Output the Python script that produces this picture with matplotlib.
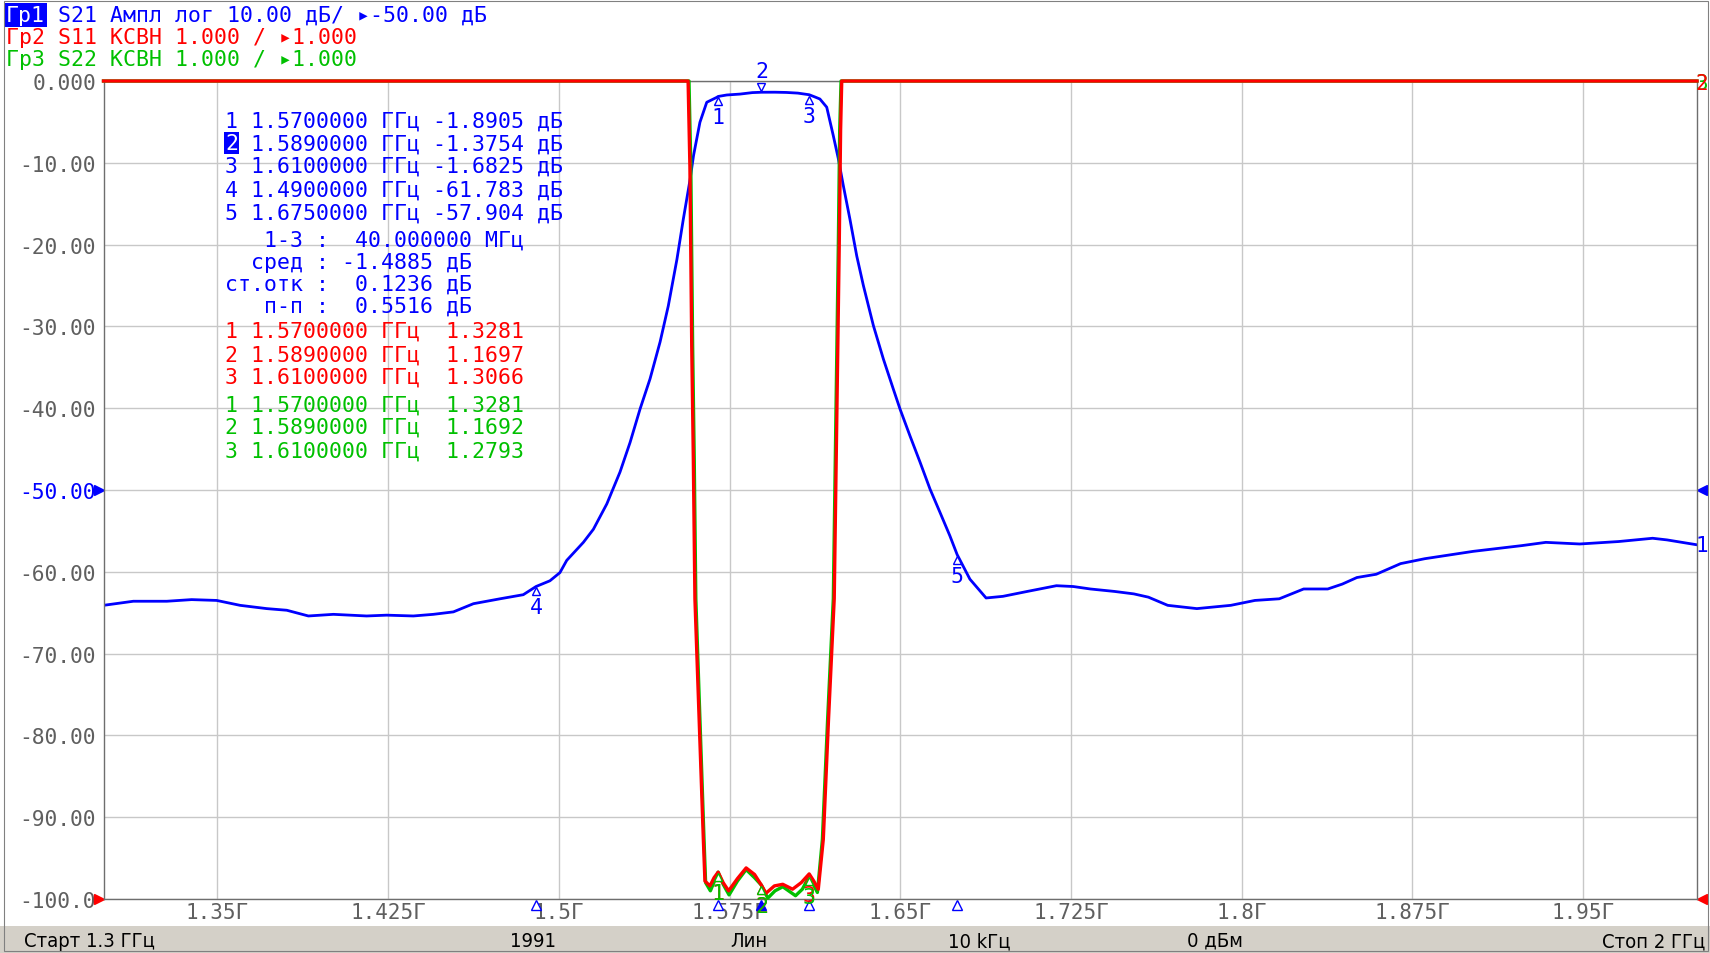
import numpy as np
import matplotlib.pyplot as plt
from matplotlib import transforms
from matplotlib.patches import Rectangle

W, H = 1710, 954
BLUE, RED, GREEN, GRAY = "#0000ff", "#ff0000", "#00c000", "#5f5f5f"
MONO = ["DejaVu Sans Mono", "DejaVu Sans"]

# S21, дБ
s21_f = [1.3000, 1.3131, 1.3278, 1.3387, 1.3497, 1.3600, 1.3717, 1.3805, 1.3900, 1.4010,
         1.4156, 1.4244, 1.4361, 1.4449, 1.4537, 1.4625, 1.4742, 1.4844, 1.4900, 1.4961,
         1.5005, 1.5035, 1.5108, 1.5152, 1.5211, 1.5269, 1.5313, 1.5357, 1.5401, 1.5445,
         1.5481, 1.5519, 1.5547, 1.5577, 1.5592, 1.5620, 1.5650, 1.5694, 1.5700, 1.5738,
         1.5796, 1.5850, 1.5890, 1.5950, 1.6000, 1.6050, 1.6100, 1.6125, 1.6147, 1.6177,
         1.6206, 1.6228, 1.6250, 1.6279, 1.6309, 1.6338, 1.6382, 1.6426, 1.6470, 1.6499,
         1.6543, 1.6587, 1.6631, 1.6674, 1.6718, 1.6750, 1.6806, 1.6877, 1.6951, 1.7058,
         1.7186, 1.7260, 1.7335, 1.7441, 1.7526, 1.7590, 1.7675, 1.7803, 1.7952, 1.8058,
         1.8165, 1.8272, 1.8378, 1.8442, 1.8506, 1.8591, 1.8698, 1.8804, 1.9017, 1.9230,
         1.9336, 1.9485, 1.9656, 1.9805, 1.9868, 2.0000]
s21_db = [-64.1, -63.6, -63.6, -63.4, -63.5, -64.1, -64.5, -64.7, -65.4, -65.2,
          -65.4, -65.3, -65.4, -65.2, -64.9, -63.9, -63.3, -62.8, -61.8, -61.1,
          -60.1, -58.6, -56.4, -54.8, -51.7, -47.8, -44.2, -40.1, -36.4, -31.9,
          -27.5, -21.8, -16.9, -12.0, -9.1, -5.05, -2.6, -2.0, -1.89, -1.71,
          -1.6, -1.42, -1.375, -1.37, -1.40, -1.48, -1.68, -1.95, -2.2, -3.2,
          -6.7, -9.5, -12.8, -16.9, -21.4, -25.0, -29.9, -34.0, -37.7, -40.1,
          -43.4, -46.6, -49.9, -52.7, -55.6, -57.9, -60.9, -63.2, -63.0, -62.4,
          -61.7, -61.8, -62.1, -62.4, -62.7, -63.1, -64.1, -64.5, -64.1, -63.5,
          -63.3, -62.1, -62.1, -61.5, -60.7, -60.3, -59.0, -58.4, -57.5, -56.8,
          -56.4, -56.6, -56.3, -55.9, -56.1, -56.7]

# S11, КСВН (верх шкалы = 11)
s11_f = [1.3000, 1.5568, 1.5576, 1.5584, 1.5591, 1.5598, 1.5635, 1.5642, 1.5664, 1.5682,
         1.5700, 1.5722, 1.5746, 1.5785, 1.5823, 1.5860, 1.5890, 1.5910, 1.5947, 1.5984,
         1.6027, 1.6065, 1.6100, 1.6120, 1.6140, 1.6162, 1.6185, 1.6210, 1.6232, 1.6238,
         1.6243, 2.0000]
s11_vswr = [11.0, 11.0, 9.95, 7.76, 6.38, 4.67, 1.73, 1.22, 1.16, 1.26,
            1.328, 1.2, 1.10, 1.25, 1.38, 1.3, 1.17, 1.07, 1.16, 1.18,
            1.12, 1.2, 1.307, 1.22, 1.12, 1.73, 3.2, 4.67, 8.99, 10.4,
            11.0, 11.0]

# S22, КСВН
s22_f = [1.3000, 1.5572, 1.5580, 1.5588, 1.5595, 1.5602, 1.5638, 1.5645, 1.5666, 1.5684,
         1.5700, 1.5722, 1.5748, 1.5785, 1.5823, 1.5860, 1.5890, 1.5918, 1.5950, 1.5984,
         1.6040, 1.6070, 1.6100, 1.6118, 1.6136, 1.6158, 1.6181, 1.6206, 1.6228, 1.6234,
         1.6240, 2.0000]
s22_vswr = [11.0, 11.0, 9.95, 7.76, 6.38, 4.67, 1.73, 1.2, 1.1, 1.22,
            1.328, 1.18, 1.05, 1.22, 1.36, 1.26, 1.169, 1.01, 1.1, 1.15,
            1.04, 1.12, 1.279, 1.18, 1.08, 1.73, 3.2, 4.67, 8.99, 10.4,
            11.0, 11.0]

# маркеры
mk_f = [1.57, 1.589, 1.61, 1.49, 1.675]
mk_s21 = [-1.8905, -1.3754, -1.6825, -61.783, -57.904]
mk_s11 = [1.3281, 1.1697, 1.3066]
mk_s22 = [1.3281, 1.1692, 1.2793]
stats = [-1.4885, 0.1236, 0.5516]

x_ticks = [1.35, 1.425, 1.5, 1.575, 1.65, 1.725, 1.8, 1.875, 1.95]
x_labels = ["1.35Г", "1.425Г", "1.5Г", "1.575Г", "1.65Г", "1.725Г", "1.8Г", "1.875Г", "1.95Г"]
y_ticks = [0, -10, -20, -30, -40, -50, -60, -70, -80, -90, -100]
y_labels = ["0.000", "-10.00", "-20.00", "-30.00", "-40.00", "-50.00",
            "-60.00", "-70.00", "-80.00", "-90.00", "-100.0"]

header = ["Гр1 S21 Ампл лог 10.00 дБ/ ▸-50.00 дБ",
          "Гр2 S11 КСВН 1.000 / ▸1.000",
          "Гр3 S22 КСВН 1.000 / ▸1.000"]
status = ["Старт 1.3 ГГц", "1991", "Лин", "10 kГц", "0 дБм", "Стоп 2 ГГц"]


def fx(x):
    return x / W


def fy(y):
    return 1 - y / H


fig = plt.figure(figsize=(W / 100, H / 100), dpi=100)
fig.patch.set_facecolor("white")

# рамка окна и строка состояния
fig.patches.append(Rectangle((0, 0), 1, (H - 927) / H, transform=fig.transFigure,
                             facecolor="#d4d0c8", edgecolor="none", zorder=0))
fig.patches.append(Rectangle((fx(3.5), fy(951.5)), (1707.5 - 3.5) / W, (951.5 - 1.5) / H,
                             transform=fig.transFigure, fill=False,
                             edgecolor="#808080", lw=0.8, zorder=5))

ax = fig.add_axes([fx(103.5), fy(900), (1697 - 103.5) / W, (900 - 82) / H])
ax.set_xlim(1.3, 2.0)
ax.set_ylim(-100, 0)
ax.set_xticks(x_ticks)
ax.set_xticklabels(x_labels, family=MONO, fontsize=15, color=GRAY)
ax.set_yticks(y_ticks)
ax.set_yticklabels(y_labels, family=MONO, fontsize=15.3, color=GRAY)
ax.get_yticklabels()[5].set_color(BLUE)
ax.tick_params(length=0)
ax.tick_params(axis="x", pad=2)
ax.tick_params(axis="y", pad=5.4)
ax.grid(color="#c8c8c8", lw=1)
for s in ax.spines.values():
    s.set_color("#6e6e6e")
    s.set_linewidth(1)

ax2 = ax.twinx()
ax2.set_ylim(1, 11)
ax2.set_yticks([])
for s in ax2.spines.values():
    s.set_visible(False)

ax.plot(s21_f, s21_db, color=BLUE, lw=2.0)
ax2.plot(s22_f, s22_vswr, color=GREEN, lw=2.4, clip_on=False)
ax2.plot(s11_f, s11_vswr, color=RED, lw=2.4, clip_on=False)


def trace_marker(axis, f, v, num, color, below=True):
    dy = -5 if below else 5
    tr = transforms.offset_copy(axis.transData, fig=fig, x=0, y=dy, units="dots")
    axis.plot([f], [v], transform=tr, marker="^" if below else "v", ms=6,
              mfc="white", mec=color, mew=1, ls="none", clip_on=False)
    axis.annotate(str(num), (f, v), xytext=(0, -21 if below else 21),
                  textcoords="offset pixels", ha="center", va="center",
                  color=color, family=MONO, fontsize=15.5, annotation_clip=False)


for i, (f, v) in enumerate(zip(mk_f[:3], mk_s11)):
    trace_marker(ax2, f, v, i + 1, RED)
for i, (f, v) in enumerate(zip(mk_f[:3], mk_s22)):
    trace_marker(ax2, f, v, i + 1, GREEN)
for i, (f, v) in enumerate(zip(mk_f, mk_s21)):
    trace_marker(ax, f, v, i + 1, BLUE, below=(i != 1))

# маркеры на оси частот
xb = transforms.blended_transform_factory(ax.transData, ax.transAxes)
xb = transforms.offset_copy(xb, fig=fig, x=0, y=-6, units="dots")
for i, f in enumerate(mk_f):
    ax.plot([f], [0], transform=xb, marker="^", ms=7, mfc=BLUE if i == 1 else "white",
            mec=BLUE, mew=1, ls="none", clip_on=False)

# опорные уровни
yb = transforms.blended_transform_factory(ax.transAxes, ax.transData)
left = transforms.offset_copy(yb, fig=fig, x=-5, y=0, units="dots")
right = transforms.offset_copy(yb, fig=fig, x=5, y=0, units="dots")
for lvl, c in [(-50, BLUE), (-100, RED)]:
    ax.plot([0], [lvl], transform=left, marker=">", ms=6.5, color=c, ls="none", clip_on=False)
    ax.plot([1], [lvl], transform=right, marker="<", ms=6.5, color=c, ls="none", clip_on=False)

# номера трасс справа
ax2.annotate("3", (2.0, s22_vswr[-1]), xytext=(5, -2), textcoords="offset pixels",
             ha="center", va="center", color=GREEN, family=MONO, fontsize=15,
             annotation_clip=False)
ax2.annotate("2", (2.0, s11_vswr[-1]), xytext=(5, -2), textcoords="offset pixels",
             ha="center", va="center", color=RED, family=MONO, fontsize=15,
             annotation_clip=False)
ax.annotate("1", (2.0, s21_db[-1]), xytext=(5, 0), textcoords="offset pixels",
            ha="center", va="center", color=BLUE, family=MONO, fontsize=15,
            annotation_clip=False)

# заголовок
fs = 15.5
for txt, yc, c in zip(header, [14.3, 36, 58.3], [BLUE, RED, GREEN]):
    fig.text(fx(6), fy(yc + 7.8), txt, family=MONO, fontsize=fs, color=c, va="baseline")
fig.text(fx(6), fy(14.3 + 7.8), "Гр1", family=MONO, fontsize=fs, color="white",
         va="baseline", bbox=dict(boxstyle="square,pad=0.08", fc=BLUE, ec="none"))

# таблица маркеров
rows = []
for i, (f, v) in enumerate(zip(mk_f, mk_s21)):
    rows.append((f"{i + 1} {f:.7f} ГГц {v:>7.5g} дБ", BLUE))
span = (mk_f[2] - mk_f[0]) * 1000
rows.append((f"   1-3 :  {span:.6f} МГц", BLUE))
rows.append((f"  сред : {stats[0]:.4f} дБ", BLUE))
rows.append((f"ст.отк :  {stats[1]:.4f} дБ", BLUE))
rows.append((f"   п-п :  {stats[2]:.4f} дБ", BLUE))
for i, (f, v) in enumerate(zip(mk_f[:3], mk_s11)):
    rows.append((f"{i + 1} {f:.7f} ГГц {v:>7.5g}", RED))
for i, (f, v) in enumerate(zip(mk_f[:3], mk_s22)):
    rows.append((f"{i + 1} {f:.7f} ГГц {v:>7.5g}", GREEN))
row_y = [119.3, 142.3, 165, 188.3, 211.7, 238.3, 261.7, 283.3, 305,
         330, 353.3, 376, 403.3, 426, 449.3]
for (txt, c), yc in zip(rows, row_y):
    fig.text(fx(225), fy(yc + 7.8), txt, family=MONO, fontsize=fs, color=c, va="baseline")
fig.text(fx(225), fy(row_y[1] + 7.8), "2", family=MONO, fontsize=fs, color="white",
         va="baseline", bbox=dict(boxstyle="square,pad=0.05", fc=BLUE, ec="none"))

# строка состояния
sx = [24, 533, 749, 979, 1215, 1705]
sha = ["left", "center", "center", "center", "center", "right"]
for txt, x, a in zip(status, sx, sha):
    fig.text(fx(x), fy(941.5), txt, fontsize=14.5, color="black", ha=a, va="center",
             family="DejaVu Sans", fontstretch="condensed")

fig.savefig("out.png", dpi=100)
